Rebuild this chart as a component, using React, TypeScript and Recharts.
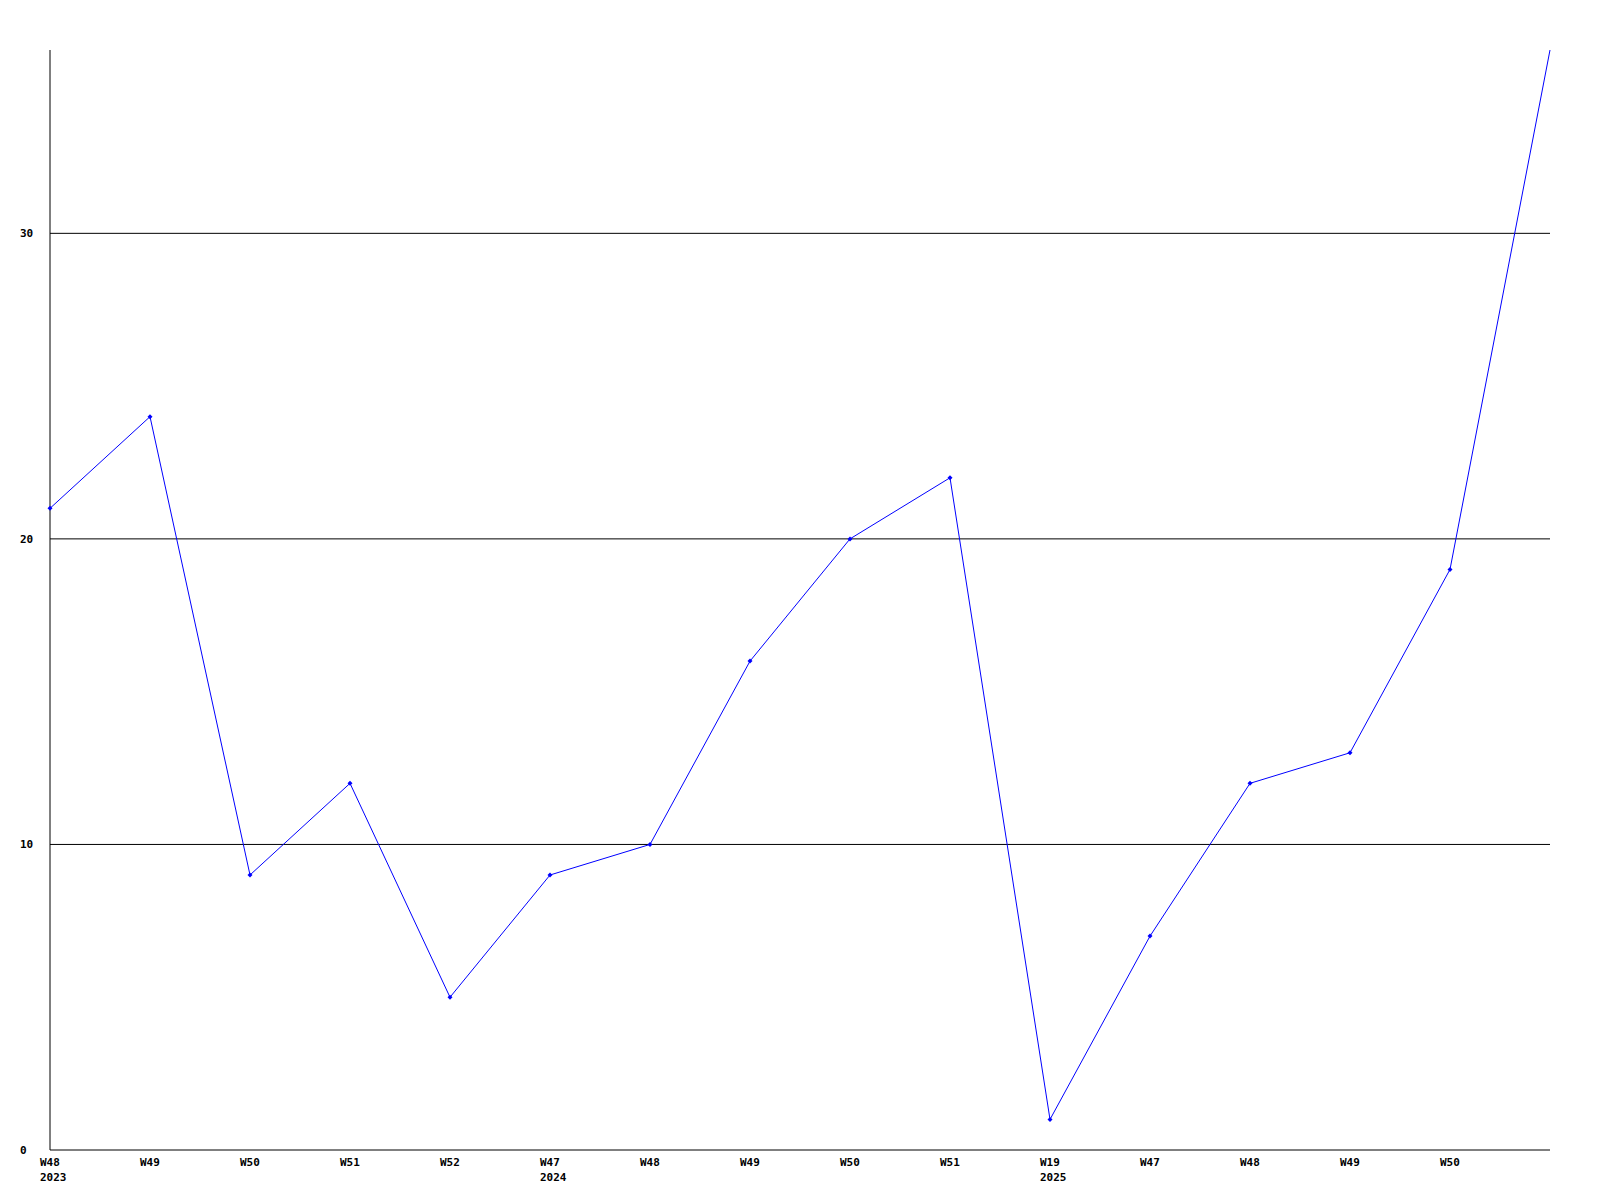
import React from "react";
import { LineChart, Line, XAxis, YAxis, ReferenceLine } from "recharts";

const weekLabels = ["W48", "W49", "W50", "W51", "W52", "W47", "W48", "W49", "W50", "W51", "W19", "W47", "W48", "W49", "W50", ""];
const yearLabels = ["2023", "", "", "", "", "2024", "", "", "", "", "2025", "", "", "", "", ""];
const values = [21, 24, 9, 12, 5, 9, 10, 16, 20, 22, 1, 7, 12, 13, 19, 36];
const yTicks = [0, 10, 20, 30];
const gridValues = [10, 20, 30];

const data = values.map((v, i) => ({ idx: i, value: v }));
const xTicks = weekLabels.map((_, i) => i).filter((i) => weekLabels[i] !== "");

const FONT = "'DejaVu Sans Mono', monospace";

const XTick = (props: any) => {
  const { x, payload } = props;
  const i = payload.value;
  return (
    <g>
      <text x={x - 10} y={1166} textAnchor="start" fontFamily={FONT} fontWeight="bold" fontSize={11} fill="#000">
        {weekLabels[i]}
      </text>
      {yearLabels[i] ? (
        <text x={x - 10} y={1181} textAnchor="start" fontFamily={FONT} fontWeight="bold" fontSize={11} fill="#000">
          {yearLabels[i]}
        </text>
      ) : null}
    </g>
  );
};

const YTick = (props: any) => {
  const { y, payload } = props;
  return (
    <text x={20} y={y + 4} textAnchor="start" fontFamily={FONT} fontWeight="bold" fontSize={11} fill="#000">
      {payload.value}
    </text>
  );
};

const Dot = (props: any) => {
  const { cx, cy, index } = props;
  if (cx == null || cy == null || index === values.length - 1) return null;
  return <path d={`M${cx - 2.5},${cy} L${cx},${cy - 2.5} L${cx + 2.5},${cy} L${cx},${cy + 2.5} Z`} fill="#0000ff" stroke="none" />;
};

export default function App() {
  return (
    <div style={{ position: "absolute", left: 0, top: 0, width: 1600, height: 1200, background: "#fff" }}>
      <LineChart width={1600} height={1200} data={data} margin={{ top: 50, right: 50, left: 0, bottom: 0 }}>
        <XAxis
          dataKey="idx"
          type="number"
          domain={[0, 15]}
          ticks={xTicks}
          interval={0}
          height={50}
          axisLine={{ stroke: "#000", strokeWidth: 1 }}
          tickLine={false}
          tick={<XTick />}
          allowDecimals={false}
        />
        <YAxis
          type="number"
          domain={[0, 36]}
          ticks={yTicks}
          interval={0}
          width={50}
          axisLine={{ stroke: "#000", strokeWidth: 1 }}
          tickLine={false}
          tick={<YTick />}
        />
        {gridValues.map((g) => (
          <ReferenceLine key={g} y={g} stroke="#000" strokeWidth={1} />
        ))}
        <Line
          type="linear"
          dataKey="value"
          stroke="#0000ff"
          strokeWidth={1}
          dot={<Dot />}
          activeDot={false}
          isAnimationActive={false}
        />
      </LineChart>
    </div>
  );
}
